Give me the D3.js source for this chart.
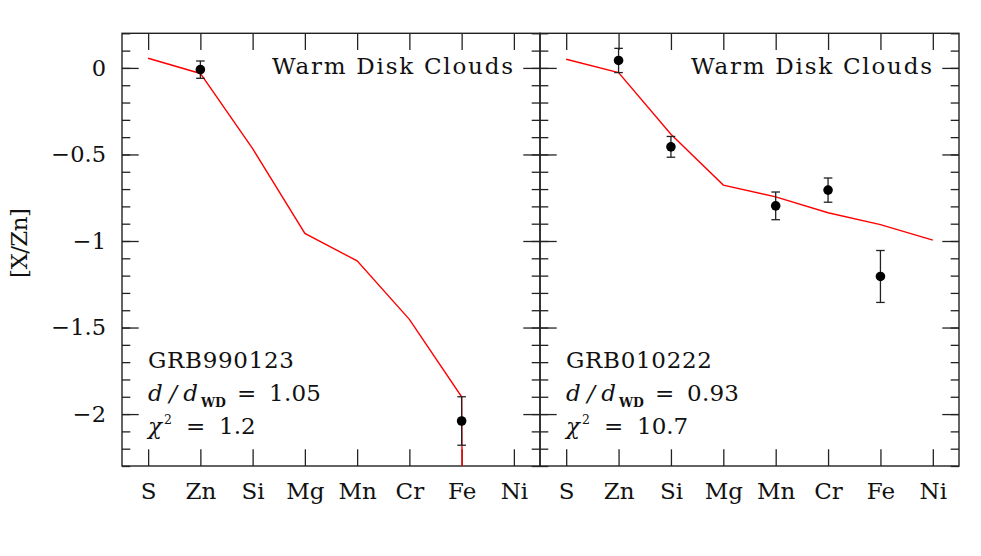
<!DOCTYPE html>
<html><head><meta charset="utf-8">
<script src="https://cdn.jsdelivr.net/npm/d3@7"></script>
<style>
html,body{margin:0;padding:0;background:#fff;}
text{font-family:"DejaVu Serif",serif;fill:#111;}
</style></head>
<body>
<svg id="chart" width="981" height="556"></svg>
<script>
// ---- data ----
const elements = ["S","Zn","Si","Mg","Mn","Cr","Fe","Ni"];
const yMajorTicks = [0, -0.5, -1, -1.5, -2];
const modelLeft  = [0.056, -0.032, -0.466, -0.956, -1.115, -1.453, -1.90, -50];
const obsLeftEl  = ["Zn","Fe"];
const obsLeftVal = [-0.01, -2.04];
const obsLeftErr = [0.05, 0.14];
const modelRight  = [0.05, -0.027, -0.383, -0.677, -0.745, -0.837, -0.905, -0.995];
const obsRightEl  = ["Zn","Si","Mn","Cr","Fe"];
const obsRightVal = [0.043, -0.456, -0.797, -0.706, -1.205];
const obsRightErr = [0.07, 0.06, 0.08, 0.07, 0.15];
const panelTitle = "Warm Disk Clouds";
const grbNames = ["GRB990123", "GRB010222"];
const dRatios = ["1.05", "0.93"];
const chi2s = ["1.2", "10.7"];

// ---- layout ----
const svg = d3.select("#chart");
const yTop = 33.3, yBot = 466;
const panels = [
  {x0:122, x1:540, model:modelLeft, el:obsLeftEl, val:obsLeftVal, err:obsLeftErr, labels:true},
  {x0:540, x1:959, model:modelRight, el:obsRightEl, val:obsRightVal, err:obsRightErr, labels:false}
];
const y = d3.scaleLinear().domain([-2.3, 0.2]).range([yBot, yTop]);
const major = 16.7, minor = 8.3;
const minorTicks = d3.range(-23, 3).map(d => d/10);
const stroke = "#222";

panels.forEach((p, pi) => {
  const x = d3.scaleLinear().domain([0.5, 8.5]).range([p.x0, p.x1]);
  const idx = elements.map((e,i)=>i+1);
  const g = svg.append("g");
  const clipId = "clip"+pi;
  svg.append("clipPath").attr("id", clipId).append("rect")
    .attr("x", p.x0).attr("y", yTop).attr("width", p.x1-p.x0).attr("height", yBot-yTop);

  const styleAxis = sel => { sel.select(".domain").remove(); sel.selectAll("line").attr("stroke", stroke).attr("stroke-width", 1.3); };
  const xb = g.append("g").attr("transform", `translate(0,${yBot})`)
    .call(d3.axisBottom(x).tickValues(idx).tickFormat(i=>elements[i-1]).tickSizeInner(-major).tickSizeOuter(0).tickPadding(0));
  styleAxis(xb);
  xb.selectAll("text").attr("y", 33).attr("dy", null).style("font-size","23px").style("font-family","DejaVu Serif").attr("fill","#111");
  const xt = g.append("g").attr("transform", `translate(0,${yTop})`)
    .call(d3.axisTop(x).tickValues(idx).tickFormat("").tickSizeInner(-major).tickSizeOuter(0));
  styleAxis(xt);

  [["L",p.x0],["R",p.x1]].forEach(([side, xp]) => {
    const mk = side==="L" ? d3.axisLeft : d3.axisRight;
    const gm = g.append("g").attr("transform", `translate(${xp},0)`)
      .call(mk(y).tickValues(minorTicks).tickFormat("").tickSizeInner(-minor).tickSizeOuter(0));
    styleAxis(gm);
    const gM = g.append("g").attr("transform", `translate(${xp},0)`)
      .call(mk(y).tickValues(yMajorTicks).tickFormat(side==="L" && p.labels ? d3.format("") : "").tickSizeInner(-major).tickSizeOuter(0).tickPadding(16));
    styleAxis(gM);
    gM.selectAll("text").style("font-size","22.5px").style("font-family","DejaVu Serif").attr("fill","#111");
  });

  g.append("rect").attr("x", p.x0).attr("y", yTop).attr("width", p.x1-p.x0).attr("height", yBot-yTop)
    .attr("fill","none").attr("stroke", stroke).attr("stroke-width", 1.4);

  const line = d3.line().x((d,i)=>x(i+1)).y(d=>y(d));
  g.append("path").attr("d", line(p.model)).attr("clip-path", `url(#${clipId})`)
    .attr("fill","none").attr("stroke","#ff0000").attr("stroke-width",1.4);

  const obs = p.el.map((e,i)=>({xi: elements.indexOf(e)+1, v: p.val[i], e: p.err[i]}));
  const eg = g.append("g").attr("stroke", stroke).attr("stroke-width", 1.3);
  obs.forEach(o => {
    const cx = x(o.xi);
    eg.append("line").attr("x1",cx).attr("x2",cx).attr("y1",y(o.v+o.e)).attr("y2",y(o.v-o.e));
    eg.append("line").attr("x1",cx-4.3).attr("x2",cx+4.3).attr("y1",y(o.v+o.e)).attr("y2",y(o.v+o.e));
    eg.append("line").attr("x1",cx-4.3).attr("x2",cx+4.3).attr("y1",y(o.v-o.e)).attr("y2",y(o.v-o.e));
  });
  g.selectAll("circle.pt").data(obs).enter().append("circle")
    .attr("cx", d=>x(d.xi)).attr("cy", d=>y(d.v)).attr("r", 4.8).attr("fill","#000");

  const fs = 23;
  g.append("text").attr("x", p.x1-27).attr("y", 74.3).attr("text-anchor","end")
    .attr("textLength", 241).attr("lengthAdjust","spacing").style("font-size", fs+"px").text(panelTitle);
  const lx = p.x0 + 26;
  g.append("text").attr("x", lx).attr("y", 368.3).attr("textLength", 146).attr("lengthAdjust","spacing")
    .style("font-size", fs+"px").text(grbNames[pi]);
  const t2 = g.append("text").attr("y", 401).style("font-size", fs+"px");
  t2.append("tspan").attr("x", lx).attr("textLength", 50).attr("lengthAdjust","spacing").style("font-style","italic").text("d/d");
  t2.append("tspan").attr("x", lx+53).attr("y", 407).style("font-size","12.5px").style("font-weight","bold").text("WD");
  t2.append("tspan").attr("x", lx+89).attr("y", 401).text("=");
  t2.append("tspan").attr("x", lx+121).attr("y", 401).attr("textLength", 52).attr("lengthAdjust","spacing").text(dRatios[pi]);
  const t3 = g.append("text").attr("y", 434).style("font-size", fs+"px");
  t3.append("tspan").attr("x", lx).style("font-style","italic").text("χ");
  t3.append("tspan").attr("x", lx+16).attr("y", 424).style("font-size","12.5px").text("2");
  t3.append("tspan").attr("x", lx+38).attr("y", 434).text("=");
  t3.append("tspan").attr("x", lx+71).attr("y", 434).text(chi2s[pi]);
});

svg.append("text").attr("transform","translate(27,243) rotate(-90)").attr("text-anchor","middle")
  .attr("textLength", 70).attr("lengthAdjust","spacing")
  .style("font-size","23px").text("[X/Zn]");
</script>
</body></html>
